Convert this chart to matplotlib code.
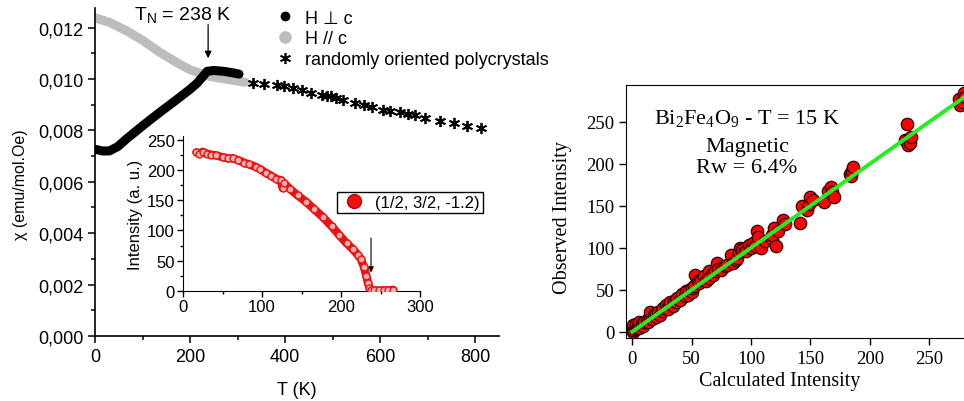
import numpy as np
import matplotlib
matplotlib.use("Agg")
import matplotlib.pyplot as plt
from matplotlib.lines import Line2D
from matplotlib.ticker import MultipleLocator, FuncFormatter

# susceptibility, H perpendicular to c (T in K, chi in emu/mol.Oe)
perp_T = [2, 15, 30, 48, 67, 85, 101, 116, 139, 165, 177, 200, 215, 228, 236,
          250, 270, 290, 303]
perp_chi = [0.00726, 0.00720, 0.00720, 0.00737, 0.00768, 0.00795, 0.00819, 0.00841,
            0.00874, 0.00910, 0.00927, 0.00960, 0.00984, 0.01012, 0.01030,
            0.01033, 0.01030, 0.01024, 0.01019]

# susceptibility, H parallel to c
par_T = [2, 32, 67, 102, 137, 172, 200, 221, 240, 260, 284, 316]
par_chi = [0.01237, 0.01219, 0.01187, 0.01148, 0.01103, 0.01064, 0.01036, 0.01022,
           0.01011, 0.01004, 0.00997, 0.00987]

# randomly oriented polycrystals
poly_T = [333, 356, 383, 398, 416, 435, 454, 477, 488, 496, 507, 522, 548, 567, 582,
          605, 620, 642, 658, 673, 695, 725, 755, 782, 812]
poly_chi = [0.00984, 0.00982, 0.00975, 0.00974, 0.00965, 0.00956, 0.00946, 0.00937,
            0.00935, 0.00933, 0.00926, 0.00920, 0.00907, 0.00897, 0.00890, 0.00881,
            0.00877, 0.00872, 0.00864, 0.00859, 0.00849, 0.00836, 0.00830, 0.00819,
            0.00810]

# inset: magnetic peak (1/2, 3/2, -1.2) intensity vs T
peak_T = [17, 20, 25, 30, 36, 42, 50, 57, 63, 70, 77, 84, 92, 98, 105, 112, 118, 124,
          126, 128, 135, 145, 156, 166, 177, 188, 198, 207, 215, 221, 225, 229, 232,
          234, 236, 238, 242, 248, 255, 260, 266]
peak_I = [229, 227, 230, 227, 225, 224, 221, 219, 219, 216, 212, 209, 205, 201, 195,
          190, 185, 183, 170, 178, 169, 158, 147, 135, 122, 107, 92, 79, 69, 60, 53,
          40, 25, 14, 5, 1, 1, 1, 1, 1, 2]

# refinement: calculated vs observed intensity
calc_I = [0.5, 1, 1, 2, 3, 3, 4, 5, 6, 6, 8, 9, 10, 12, 13, 15, 15, 17, 18, 20, 20, 22,
          23, 25, 26, 28, 30, 30, 32, 34, 35, 37, 38, 40, 42, 44, 45, 47, 48, 50, 50,
          52, 53, 55, 56, 58, 60, 62, 65, 65, 68, 68, 70, 71, 72, 75, 78, 80, 83, 85,
          87, 88, 90, 91, 92, 95, 96, 98, 100, 102, 103, 105, 106, 108, 112, 118, 118,
          121, 119, 123, 127, 129, 141, 143, 147, 149, 150, 152, 161, 165, 167, 168,
          170, 183, 184, 185, 186, 230, 231, 232, 233, 234, 235, 275, 276, 278, 279, 280]
obs_I = [0, 2, 8, 3, 6, 9, 5, 7, 4, 12, 10, 7, 12, 14, 11, 18, 24, 15, 20, 17, 22, 24,
         20, 25, 28, 32, 30, 27, 35, 31, 37, 35, 40, 38, 45, 43, 48, 44, 50, 47, 52,
         55, 67, 60, 58, 62, 66, 61, 72, 64, 70, 67, 72, 82, 75, 73, 78, 80, 91, 82,
         85, 88, 95, 100, 98, 100, 96, 103, 100, 106, 102, 120, 113, 100, 108, 110,
         115, 102, 124, 120, 133, 128, 130, 150, 145, 152, 160, 157, 155, 168, 172,
         166, 160, 188, 186, 192, 196, 228, 248, 222, 230, 225, 232, 277, 270, 274,
         285, 280]

sans = "Liberation Sans"
serif = "Liberation Serif"
plt.rcParams["font.family"] = [sans, "DejaVu Sans"]


def comma_fmt(v, pos):
    return f"{v:.3f}".replace(".", ",")


fig = plt.figure(figsize=(9.64, 4.02), dpi=100)

# ---------- left: susceptibility ----------
ax = fig.add_axes([95 / 964, 65 / 402, 404 / 964, 327.7 / 402])
ax.plot(par_T, par_chi, color="#bdbdbd", lw=6.5, solid_capstyle="round", zorder=2)
ax.plot(perp_T, perp_chi, color="black", lw=6.5, solid_capstyle="round", zorder=3)
ax.plot(poly_T, poly_chi, ls="none", marker=(6, 2, 0), ms=8, mew=1.3, color="black")
ax.set_xlim(0, 850)
ax.set_ylim(0, 0.01275)
for s in ["top", "right"]:
    ax.spines[s].set_visible(False)
for s in ["left", "bottom"]:
    ax.spines[s].set_linewidth(1.2)
ax.xaxis.set_major_locator(MultipleLocator(200))
ax.xaxis.set_minor_locator(MultipleLocator(100))
ax.yaxis.set_major_locator(MultipleLocator(0.002))
ax.yaxis.set_minor_locator(MultipleLocator(0.001))
ax.yaxis.set_major_formatter(FuncFormatter(comma_fmt))
ax.tick_params(which="both", direction="out", width=1.1, labelsize=13)
ax.tick_params(which="major", length=5)
ax.tick_params(which="minor", length=3)
ax.set_xlabel("T (K)", fontsize=13, labelpad=12)
ax.set_ylabel("χ (emu/mol.Oe)", fontsize=11.5)
ax.yaxis.set_label_coords(-0.165, 0.465)

ax.annotate("", xy=(238, 0.0107), xytext=(238, 0.01222),
            arrowprops=dict(arrowstyle="-|>", color="black", lw=0.9, mutation_scale=10))
fig.text(183 / 964, 1 - 15 / 402, r"$\mathregular{T_N}$ = 238 K", fontsize=14,
         ha="center", va="center")

handles = [
    Line2D([], [], ls="none", marker="o", ms=6, mfc="black", mec="black"),
    Line2D([], [], ls="none", marker="o", ms=8, mfc="#bdbdbd", mec="#bdbdbd"),
    Line2D([], [], ls="none", marker=(6, 2, 0), ms=8, mew=1.2, color="black"),
]
fig.legend(handles, ["H ⊥ c", "H // c", "randomly oriented polycrystals"],
           loc="upper left", bbox_to_anchor=(262 / 964, 1 + 2 / 402), frameon=False,
           fontsize=13, handletextpad=0.5, labelspacing=0.2, borderpad=0.2,
           handlelength=1.2)

# ---------- inset ----------
ins = fig.add_axes([183 / 964, 110 / 402, 237 / 964, 155 / 402])
ins.plot(peak_T, peak_I, color="#ee1111", lw=6, solid_capstyle="round", zorder=2)
ins.plot(peak_T, peak_I, ls="none", marker="o", ms=5, mfc="#ffb0b0", mec="#ee1111",
         mew=1, zorder=3)
ins.set_xlim(0, 300)
ins.set_ylim(0, 256)
ins.patch.set_alpha(0)
for s in ["top", "right"]:
    ins.spines[s].set_visible(False)
ins.xaxis.set_major_locator(MultipleLocator(100))
ins.xaxis.set_minor_locator(MultipleLocator(50))
ins.yaxis.set_major_locator(MultipleLocator(50))
ins.yaxis.set_minor_locator(MultipleLocator(25))
ins.tick_params(which="both", direction="out", width=1, labelsize=12, pad=2)
ins.tick_params(which="major", length=4)
ins.tick_params(which="minor", length=2.5)
ins.set_ylabel("Intensity (a. u.)", fontsize=12, labelpad=3)
ins.annotate("", xy=(238, 26), xytext=(238, 92),
             arrowprops=dict(arrowstyle="-|>", color="black", lw=0.8, mutation_scale=8))
lh = Line2D([], [], ls="none", marker="o", ms=10, mfc="#ee1111", mec="#bb0000")
leg = ins.legend([lh], ["(1/2, 3/2, -1.2)"], loc="upper left",
                 bbox_to_anchor=(0.65, 0.64), fontsize=12, fancybox=False,
                 edgecolor="black", framealpha=1, borderpad=0.2, handletextpad=0.5,
                 handlelength=1.6, borderaxespad=0)
leg.get_frame().set_linewidth(1)

# ---------- right: observed vs calculated ----------
ax2 = fig.add_axes([626 / 964, 63 / 402, 338 / 964, 253 / 402])
ax2.scatter(calc_I, obs_I, s=80, color="#ff0000", edgecolor="#300000", linewidth=0.9,
            zorder=2)
ax2.plot([0, 280], [0, 280], color="#22ee22", lw=2.8, zorder=3)
ax2.set_xlim(-5.3, 279.3)
ax2.set_ylim(-7.5, 294)
ax2.spines["right"].set_visible(False)
ax2.xaxis.set_major_locator(MultipleLocator(50))
ax2.yaxis.set_major_locator(MultipleLocator(50))
ax2.tick_params(direction="out", length=5, width=1, labelsize=13.5)
for lab in ax2.get_xticklabels() + ax2.get_yticklabels():
    lab.set_fontfamily(serif)
ax2.set_xlabel("Calculated Intensity", fontsize=14.5, fontfamily=serif)
ax2.xaxis.set_label_coords(0.455, -0.13)
ax2.set_ylabel("Observed Intensity", fontsize=14.5, fontfamily=serif)
ax2.yaxis.set_label_coords(-0.16, 0.48)
ax2.text(0.358, 0.87, r"$\mathregular{Bi_2Fe_4O_9}$ - T = 15 K", transform=ax2.transAxes,
         ha="center", va="center", fontsize=16, fontfamily=serif)
ax2.text(0.358, 0.756, "Magnetic", transform=ax2.transAxes, ha="center", va="center",
         fontsize=16, fontfamily=serif)
ax2.text(0.358, 0.672, "Rw = 6.4%", transform=ax2.transAxes, ha="center", va="center",
         fontsize=16, fontfamily=serif)

fig.savefig("out.png", dpi=100)
